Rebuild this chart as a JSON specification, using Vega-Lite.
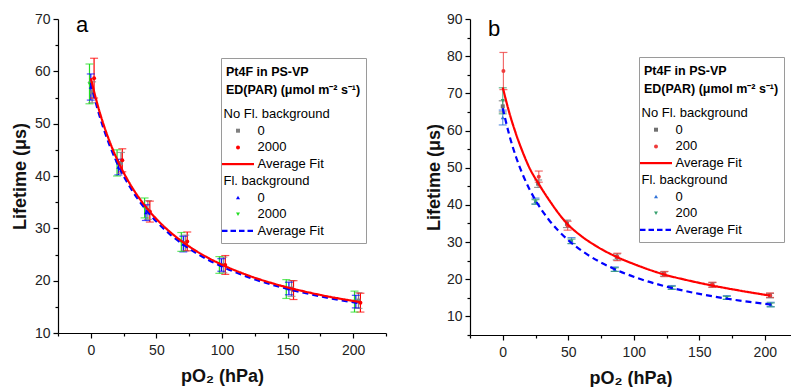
{
  "$schema": "https://vega.github.io/schema/vega-lite/v6.json",
  "padding": {"left": 11, "top": 12, "right": 0, "bottom": 0},
  "bounds": "flush",
  "spacing": 84,
  "config": {
    "font": "Liberation Sans",
    "view": {"stroke": null},
    "axis": {
      "grid": false,
      "domainColor": "#000",
      "domainWidth": 1.2,
      "tickColor": "#000",
      "tickWidth": 1.2,
      "labelFont": "Liberation Sans",
      "labelFontSize": 14,
      "labelColor": "#222",
      "labelPadding": 3,
      "labelOverlap": false,
      "labelFlush": false,
      "titleFont": "Liberation Sans",
      "titleFontSize": 18,
      "titleFontWeight": "bold",
      "titleColor": "#111"
    },
    "axisX": {"titlePadding": 10, "labelPadding": 5},
    "axisY": {"titlePadding": 5}
  },
  "datasets": {
    "a_pts": [
      {"x": 1, "y": 56, "lo": 54, "hi": 58, "s": "nf0"},
      {"x": 23, "y": 42.5, "lo": 40.5, "hi": 44.5, "s": "nf0"},
      {"x": 43.5, "y": 33.5, "lo": 31.7, "hi": 35.3, "s": "nf0"},
      {"x": 72, "y": 27.2, "lo": 25.7, "hi": 28.7, "s": "nf0"},
      {"x": 101, "y": 23, "lo": 21.5, "hi": 24.5, "s": "nf0"},
      {"x": 153, "y": 18.5, "lo": 17, "hi": 20, "s": "nf0"},
      {"x": 204, "y": 16.2, "lo": 14.7, "hi": 17.7, "s": "nf0"},
      {"x": 2.5, "y": 58.7, "lo": 54.9, "hi": 62.5, "s": "nf2000"},
      {"x": 24, "y": 43, "lo": 40.8, "hi": 45.2, "s": "nf2000"},
      {"x": 45, "y": 33.2, "lo": 31.2, "hi": 35.2, "s": "nf2000"},
      {"x": 73.5, "y": 27.5, "lo": 25.7, "hi": 29.3, "s": "nf2000"},
      {"x": 102.5, "y": 23, "lo": 21.2, "hi": 24.8, "s": "nf2000"},
      {"x": 154.5, "y": 18.2, "lo": 16.4, "hi": 20, "s": "nf2000"},
      {"x": 205.5, "y": 15.8, "lo": 14, "hi": 17.6, "s": "nf2000"},
      {"x": 0, "y": 57, "lo": 54.5, "hi": 59.5, "s": "fl0"},
      {"x": 21, "y": 41.7, "lo": 40.2, "hi": 43.2, "s": "fl0"},
      {"x": 42, "y": 33, "lo": 31.5, "hi": 34.5, "s": "fl0"},
      {"x": 70.5, "y": 27, "lo": 25.5, "hi": 28.5, "s": "fl0"},
      {"x": 99.5, "y": 23, "lo": 21.8, "hi": 24.2, "s": "fl0"},
      {"x": 151, "y": 18.5, "lo": 17.3, "hi": 19.7, "s": "fl0"},
      {"x": 202, "y": 16, "lo": 14.8, "hi": 17.2, "s": "fl0"},
      {"x": -1, "y": 57.6, "lo": 53.8, "hi": 61.4, "s": "fl2000"},
      {"x": 20, "y": 42.5, "lo": 40, "hi": 45, "s": "fl2000"},
      {"x": 41, "y": 33.9, "lo": 32, "hi": 35.8, "s": "fl2000"},
      {"x": 69, "y": 27.4, "lo": 25.6, "hi": 29.2, "s": "fl2000"},
      {"x": 98, "y": 23, "lo": 21.4, "hi": 24.6, "s": "fl2000"},
      {"x": 149, "y": 18.4, "lo": 16.6, "hi": 20.2, "s": "fl2000"},
      {"x": 201, "y": 16, "lo": 14, "hi": 18, "s": "fl2000"}
    ],
    "a_fit": [
      {"x": 0, "y": 57.8, "s": "flfit"}, {"x": 5, "y": 52.91, "s": "flfit"}, {"x": 10, "y": 48.86, "s": "flfit"},
      {"x": 15, "y": 45.45, "s": "flfit"}, {"x": 20, "y": 42.54, "s": "flfit"}, {"x": 30, "y": 37.84, "s": "flfit"},
      {"x": 40, "y": 34.2, "s": "flfit"}, {"x": 50, "y": 31.3, "s": "flfit"}, {"x": 60, "y": 28.95, "s": "flfit"},
      {"x": 70, "y": 26.99, "s": "flfit"}, {"x": 80, "y": 25.33, "s": "flfit"}, {"x": 90, "y": 23.92, "s": "flfit"},
      {"x": 100, "y": 22.7, "s": "flfit"}, {"x": 120, "y": 20.68, "s": "flfit"}, {"x": 140, "y": 19.09, "s": "flfit"},
      {"x": 160, "y": 17.82, "s": "flfit"}, {"x": 180, "y": 16.76, "s": "flfit"}, {"x": 205, "y": 15.68, "s": "flfit"},
      {"x": 0, "y": 58.7, "s": "nffit"}, {"x": 5, "y": 53.73, "s": "nffit"}, {"x": 10, "y": 49.62, "s": "nffit"},
      {"x": 15, "y": 46.16, "s": "nffit"}, {"x": 20, "y": 43.2, "s": "nffit"}, {"x": 30, "y": 38.43, "s": "nffit"},
      {"x": 40, "y": 34.73, "s": "nffit"}, {"x": 50, "y": 31.79, "s": "nffit"}, {"x": 60, "y": 29.4, "s": "nffit"},
      {"x": 70, "y": 27.41, "s": "nffit"}, {"x": 80, "y": 25.72, "s": "nffit"}, {"x": 90, "y": 24.29, "s": "nffit"},
      {"x": 100, "y": 23.05, "s": "nffit"}, {"x": 120, "y": 21.0, "s": "nffit"}, {"x": 140, "y": 19.39, "s": "nffit"},
      {"x": 160, "y": 18.1, "s": "nffit"}, {"x": 180, "y": 17.02, "s": "nffit"}, {"x": 205, "y": 15.92, "s": "nffit"}
    ],
    "b_pts": [
      {"x": 0, "y": 66.5, "lo": 65, "hi": 68, "s": "nf0"},
      {"x": 27, "y": 45.7, "lo": 44.7, "hi": 46.7, "s": "nf0"},
      {"x": 49, "y": 34.9, "lo": 33.9, "hi": 35.9, "s": "nf0"},
      {"x": 87, "y": 26, "lo": 25.2, "hi": 26.8, "s": "nf0"},
      {"x": 123, "y": 21.4, "lo": 20.8, "hi": 22, "s": "nf0"},
      {"x": 160, "y": 18.5, "lo": 17.9, "hi": 19.1, "s": "nf0"},
      {"x": 204, "y": 15.6, "lo": 15, "hi": 16.2, "s": "nf0"},
      {"x": 0.5, "y": 76, "lo": 71, "hi": 81, "s": "nf200"},
      {"x": 27.5, "y": 47.6, "lo": 46.1, "hi": 49.1, "s": "nf200"},
      {"x": 49.5, "y": 34.4, "lo": 33.2, "hi": 35.6, "s": "nf200"},
      {"x": 87.5, "y": 26, "lo": 25, "hi": 27, "s": "nf200"},
      {"x": 123.5, "y": 21.4, "lo": 20.7, "hi": 22.1, "s": "nf200"},
      {"x": 160, "y": 18.5, "lo": 17.8, "hi": 19.2, "s": "nf200"},
      {"x": 204, "y": 15.7, "lo": 15.1, "hi": 16.3, "s": "nf200"},
      {"x": 0, "y": 63.5, "lo": 61.5, "hi": 65.5, "s": "fl0"},
      {"x": 25, "y": 41, "lo": 40.2, "hi": 41.8, "s": "fl0"},
      {"x": 52.5, "y": 30.4, "lo": 29.6, "hi": 31.2, "s": "fl0"},
      {"x": 85.5, "y": 22.7, "lo": 22.1, "hi": 23.3, "s": "fl0"},
      {"x": 129, "y": 17.8, "lo": 17.3, "hi": 18.3, "s": "fl0"},
      {"x": 171, "y": 15.1, "lo": 14.6, "hi": 15.6, "s": "fl0"},
      {"x": 204.5, "y": 13.2, "lo": 12.6, "hi": 13.8, "s": "fl0"},
      {"x": 0, "y": 68, "lo": 64.5, "hi": 71.5, "s": "fl200"},
      {"x": 25, "y": 40.8, "lo": 40.2, "hi": 41.4, "s": "fl200"},
      {"x": 52.5, "y": 30.2, "lo": 29.6, "hi": 30.8, "s": "fl200"},
      {"x": 85.5, "y": 22.6, "lo": 22.1, "hi": 23.1, "s": "fl200"},
      {"x": 129, "y": 17.7, "lo": 17.3, "hi": 18.1, "s": "fl200"},
      {"x": 171, "y": 15, "lo": 14.6, "hi": 15.4, "s": "fl200"},
      {"x": 204.5, "y": 13.1, "lo": 12.6, "hi": 13.6, "s": "fl200"}
    ],
    "b_fit": [
      {"x": 0, "y": 66, "s": "flfit"}, {"x": 5, "y": 58.76, "s": "flfit"}, {"x": 10, "y": 53.02, "s": "flfit"},
      {"x": 15, "y": 48.36, "s": "flfit"}, {"x": 20, "y": 44.5, "s": "flfit"}, {"x": 25, "y": 41.24, "s": "flfit"},
      {"x": 35, "y": 36.07, "s": "flfit"}, {"x": 50, "y": 30.5, "s": "flfit"}, {"x": 65, "y": 26.55, "s": "flfit"},
      {"x": 85, "y": 22.78, "s": "flfit"}, {"x": 105, "y": 20.06, "s": "flfit"}, {"x": 130, "y": 17.57, "s": "flfit"},
      {"x": 150, "y": 16.06, "s": "flfit"}, {"x": 170, "y": 14.83, "s": "flfit"}, {"x": 190, "y": 13.82, "s": "flfit"},
      {"x": 205, "y": 13.17, "s": "flfit"},
      {"x": 0, "y": 71.6, "s": "nffit"}, {"x": 5, "y": 64.8, "s": "nffit"}, {"x": 10, "y": 59.2, "s": "nffit"},
      {"x": 15, "y": 54.4, "s": "nffit"}, {"x": 20.6, "y": 49.8, "s": "nffit"}, {"x": 27, "y": 45.9, "s": "nffit"},
      {"x": 35, "y": 41.5, "s": "nffit"}, {"x": 49, "y": 35.0, "s": "nffit"}, {"x": 60, "y": 31.6, "s": "nffit"},
      {"x": 70, "y": 29.2, "s": "nffit"}, {"x": 87, "y": 26.0, "s": "nffit"}, {"x": 100, "y": 24.1, "s": "nffit"},
      {"x": 123, "y": 21.3, "s": "nffit"}, {"x": 140, "y": 19.8, "s": "nffit"}, {"x": 160, "y": 18.3, "s": "nffit"},
      {"x": 180, "y": 17.0, "s": "nffit"}, {"x": 204, "y": 15.6, "s": "nffit"}
    ]
  },
  "resolve": {
    "scale": {"color": "independent", "shape": "independent", "strokeDash": "independent"},
    "legend": {"color": "independent"}
  },
  "hconcat": [
    {
      "width": 328,
      "height": 314,
      "layer": [
        {
          "data": {"name": "a_pts"},
          "mark": {"type": "rule", "strokeWidth": 1.2},
          "encoding": {
            "x": {"field": "x", "type": "quantitative", "scale": {"domain": [-25, 225], "nice": false, "zero": false},
              "axis": {"title": "pO₂ (hPa)", "format": "d", "tickCount": 100, "labelOverlap": false, "values": [-25, 0, 25, 50, 75, 100, 125, 150, 175, 200, 225], "labelExpr": "datum.value % 50 == 0 ? datum.label : ''", "tickSize": {"condition": {"test": "datum.value % 50 == 0", "value": 5}, "value": 3}}},
            "y": {"field": "lo", "type": "quantitative", "scale": {"domain": [10, 70], "nice": false, "zero": false},
              "axis": {"title": "Lifetime (μs)", "format": "d", "tickCount": 100, "labelOverlap": false, "values": [10, 15, 20, 25, 30, 35, 40, 45, 50, 55, 60, 65, 70], "labelExpr": "datum.value % 10 == 0 ? datum.label : ''", "tickSize": {"condition": {"test": "datum.value % 10 == 0", "value": 5}, "value": 3}}},
            "y2": {"field": "hi"},
            "color": {"field": "s", "type": "nominal",
              "scale": {"domain": ["H1", "nf0", "nf2000", "nffit", "H2", "fl0", "fl2000", "flfit"], "range": ["#ffffff", "#808080", "#ff0000", "#ff0000", "#ffffff", "#0000ff", "#22dd22", "#0000ff"]},
              "legend": {
                "orient": "none", "legendX": 163, "legendY": 39,
                "title": ["Pt4F in PS-VP", "ED(PAR) (μmol m⁻² s⁻¹)"],
                "titleFont": "Liberation Sans", "titleFontSize": 12.5, "titleFontWeight": "bold", "titleLineHeight": 18, "titleColor": "#000", "titlePadding": 14,
                "labelFont": "Liberation Sans", "labelFontSize": 13, "labelColor": "#000", "labelOffset": 13,
                "labelExpr": "datum.value == 'H1' ? 'No Fl. background' : datum.value == 'H2' ? 'Fl. background' : (datum.value == 'nffit' || datum.value == 'flfit') ? 'Average Fit' : (datum.value == 'nf0' || datum.value == 'fl0') ? '0' : '2000'",
                "padding": 5, "strokeColor": "#9a9a9a", "fillColor": "#ffffff", "cornerRadius": 0,
                "rowPadding": 2.7, "symbolOffset": 5.5, "symbolSize": 16, "symbolStrokeWidth": 0, "symbolOpacity": 1,
                "encode": {
                  "title": {"update": {"dy": {"value": 3}}},
                  "symbols": {"update": {
                    "shape": {"signal": "datum.value == 'nffit' ? 'M-8,-0.55H8V0.55H-8Z' : datum.value == 'flfit' ? 'M-8,-0.55H-5.25V0.55H-8Z M-3.75,-0.55H-1V0.55H-3.75Z M0.5,-0.55H3.25V0.55H0.5Z M4.75,-0.55H7.5V0.55H4.75Z' : datum.value == 'nf0' ? 'square' : datum.value == 'nf2000' ? 'circle' : datum.value == 'fl0' ? 'triangle-up' : datum.value == 'fl2000' ? 'triangle-down' : 'M0,0'"},
                    "size": {"value": 16},
                    "fill": {"signal": "datum.value == 'nf0' ? '#808080' : datum.value == 'nf2000' ? '#ff0000' : datum.value == 'nffit' ? '#ff0000' : datum.value == 'fl0' ? '#0000ff' : datum.value == 'fl2000' ? '#22dd22' : datum.value == 'flfit' ? '#0000ff' : 'transparent'"},
                    "strokeWidth": {"value": 0},
                    "opacity": {"value": 1}
                  }},
                  "labels": {"update": {
                    "dx": {"signal": "(datum.value == 'H1' || datum.value == 'H2') ? -34 : 0"}
                  }}
                }
              }
            }
          }
        },
        {
          "data": {"name": "a_pts"},
          "mark": {"type": "tick", "orient": "horizontal", "size": 8, "thickness": 1.2},
          "encoding": {
            "x": {"field": "x", "type": "quantitative"},
            "y": {"field": "lo", "type": "quantitative"},
            "color": {"field": "s", "type": "nominal", "scale": {"domain": ["H1", "nf0", "nf2000", "nffit", "H2", "fl0", "fl2000", "flfit"], "range": ["#ffffff", "#808080", "#ff0000", "#ff0000", "#ffffff", "#0000ff", "#22dd22", "#0000ff"]}}
          }
        },
        {
          "data": {"name": "a_pts"},
          "mark": {"type": "tick", "orient": "horizontal", "size": 8, "thickness": 1.2},
          "encoding": {
            "x": {"field": "x", "type": "quantitative"},
            "y": {"field": "hi", "type": "quantitative"},
            "color": {"field": "s", "type": "nominal", "scale": {"domain": ["H1", "nf0", "nf2000", "nffit", "H2", "fl0", "fl2000", "flfit"], "range": ["#ffffff", "#808080", "#ff0000", "#ff0000", "#ffffff", "#0000ff", "#22dd22", "#0000ff"]}}
          }
        },
        {
          "data": {"name": "a_pts"},
          "mark": {"type": "point", "filled": true, "size": 16, "opacity": 1},
          "encoding": {
            "x": {"field": "x", "type": "quantitative"},
            "y": {"field": "y", "type": "quantitative"},
            "color": {"field": "s", "type": "nominal", "scale": {"domain": ["H1", "nf0", "nf2000", "nffit", "H2", "fl0", "fl2000", "flfit"], "range": ["#ffffff", "#808080", "#ff0000", "#ff0000", "#ffffff", "#0000ff", "#22dd22", "#0000ff"]}},
            "shape": {"field": "s", "type": "nominal", "scale": {"domain": ["nf0", "nf2000", "fl0", "fl2000"], "range": ["square", "circle", "triangle-up", "triangle-down"]}, "legend": null}
          }
        },
        {
          "data": {"name": "a_fit"},
          "mark": {"type": "line", "strokeWidth": 2.2, "interpolate": "monotone"},
          "encoding": {
            "x": {"field": "x", "type": "quantitative"},
            "y": {"field": "y", "type": "quantitative"},
            "color": {"field": "s", "type": "nominal", "scale": {"domain": ["H1", "nf0", "nf2000", "nffit", "H2", "fl0", "fl2000", "flfit"], "range": ["#ffffff", "#808080", "#ff0000", "#ff0000", "#ffffff", "#0000ff", "#22dd22", "#0000ff"]}},
            "strokeDash": {"field": "s", "type": "nominal", "scale": {"domain": ["nffit", "flfit"], "range": [[1, 0], [6, 4]]}, "legend": null}
          }
        },
        {
          "data": {"values": [{}]},
          "mark": {"type": "text", "text": "a", "fontSize": 22, "font": "Liberation Sans", "align": "left", "baseline": "alphabetic", "color": "#000"},
          "encoding": {"x": {"datum": -11.3}, "y": {"datum": 67.5}}
        }
      ]
    },
    {
      "width": 321,
      "height": 316,
      "layer": [
        {
          "data": {"name": "b_pts"},
          "mark": {"type": "rule", "strokeWidth": 1.2, "opacity": 0.75},
          "encoding": {
            "x": {"field": "x", "type": "quantitative", "scale": {"domain": [-25, 220], "nice": false, "zero": false},
              "axis": {"title": "pO₂ (hPa)", "format": "d", "tickCount": 100, "labelOverlap": false, "values": [-25, 0, 25, 50, 75, 100, 125, 150, 175, 200], "labelExpr": "datum.value % 50 == 0 ? datum.label : ''", "tickSize": {"condition": {"test": "datum.value % 50 == 0", "value": 5}, "value": 3}}},
            "y": {"field": "lo", "type": "quantitative", "scale": {"domain": [5, 90], "nice": false, "zero": false},
              "axis": {"title": "Lifetime (μs)", "format": "d", "tickCount": 100, "labelOverlap": false, "titlePadding": 3, "values": [5, 10, 15, 20, 25, 30, 35, 40, 45, 50, 55, 60, 65, 70, 75, 80, 85, 90], "labelExpr": "datum.value % 10 == 0 ? datum.label : ''", "tickSize": {"condition": {"test": "datum.value % 10 == 0", "value": 5}, "value": 3}}},
            "y2": {"field": "hi"},
            "color": {"field": "s", "type": "nominal",
              "scale": {"domain": ["H1", "nf0", "nf200", "nffit", "H2", "fl0", "fl200", "flfit"], "range": ["#ffffff", "#707070", "#ee3b3b", "#ff0000", "#ffffff", "#2f72d8", "#36a06e", "#0000ff"]},
              "legend": {
                "orient": "none", "legendX": 169, "legendY": 38,
                "title": ["Pt4F in PS-VP", "ED(PAR) (μmol m⁻² s⁻¹)"],
                "titleFont": "Liberation Sans", "titleFontSize": 12.5, "titleFontWeight": "bold", "titleLineHeight": 18, "titleColor": "#000", "titlePadding": 14,
                "labelFont": "Liberation Sans", "labelFontSize": 13, "labelColor": "#000", "labelOffset": 13,
                "labelExpr": "datum.value == 'H1' ? 'No Fl. background' : datum.value == 'H2' ? 'Fl. background' : (datum.value == 'nffit' || datum.value == 'flfit') ? 'Average Fit' : (datum.value == 'nf0' || datum.value == 'fl0') ? '0' : '200'",
                "padding": 5, "strokeColor": "#9a9a9a", "fillColor": "#ffffff", "cornerRadius": 0,
                "rowPadding": 2.7, "symbolOffset": 5.5, "symbolSize": 16, "symbolStrokeWidth": 0, "symbolOpacity": 1,
                "encode": {
                  "title": {"update": {"dy": {"value": 3}}},
                  "symbols": {"update": {
                    "shape": {"signal": "datum.value == 'nffit' ? 'M-8,-0.55H8V0.55H-8Z' : datum.value == 'flfit' ? 'M-8,-0.55H-5.25V0.55H-8Z M-3.75,-0.55H-1V0.55H-3.75Z M0.5,-0.55H3.25V0.55H0.5Z M4.75,-0.55H7.5V0.55H4.75Z' : datum.value == 'nf0' ? 'square' : datum.value == 'nf200' ? 'circle' : datum.value == 'fl0' ? 'triangle-up' : datum.value == 'fl200' ? 'triangle-down' : 'M0,0'"},
                    "size": {"value": 16},
                    "fill": {"signal": "datum.value == 'nf0' ? '#707070' : datum.value == 'nf200' ? '#ee3b3b' : datum.value == 'nffit' ? '#ff0000' : datum.value == 'fl0' ? '#2f72d8' : datum.value == 'fl200' ? '#36a06e' : datum.value == 'flfit' ? '#0000ff' : 'transparent'"},
                    "strokeWidth": {"value": 0},
                    "opacity": {"value": 1}
                  }},
                  "labels": {"update": {
                    "dx": {"signal": "(datum.value == 'H1' || datum.value == 'H2') ? -34 : 0"}
                  }}
                }
              }
            }
          }
        },
        {
          "data": {"name": "b_pts"},
          "mark": {"type": "tick", "orient": "horizontal", "size": 8, "thickness": 1.2, "opacity": 0.75},
          "encoding": {
            "x": {"field": "x", "type": "quantitative"},
            "y": {"field": "lo", "type": "quantitative"},
            "color": {"field": "s", "type": "nominal", "scale": {"domain": ["H1", "nf0", "nf200", "nffit", "H2", "fl0", "fl200", "flfit"], "range": ["#ffffff", "#707070", "#ee3b3b", "#ff0000", "#ffffff", "#2f72d8", "#36a06e", "#0000ff"]}}
          }
        },
        {
          "data": {"name": "b_pts"},
          "mark": {"type": "tick", "orient": "horizontal", "size": 8, "thickness": 1.2, "opacity": 0.75},
          "encoding": {
            "x": {"field": "x", "type": "quantitative"},
            "y": {"field": "hi", "type": "quantitative"},
            "color": {"field": "s", "type": "nominal", "scale": {"domain": ["H1", "nf0", "nf200", "nffit", "H2", "fl0", "fl200", "flfit"], "range": ["#ffffff", "#707070", "#ee3b3b", "#ff0000", "#ffffff", "#2f72d8", "#36a06e", "#0000ff"]}}
          }
        },
        {
          "data": {"name": "b_pts"},
          "mark": {"type": "point", "filled": true, "size": 16, "opacity": 1},
          "encoding": {
            "x": {"field": "x", "type": "quantitative"},
            "y": {"field": "y", "type": "quantitative"},
            "color": {"field": "s", "type": "nominal", "scale": {"domain": ["H1", "nf0", "nf200", "nffit", "H2", "fl0", "fl200", "flfit"], "range": ["#ffffff", "#707070", "#ee3b3b", "#ff0000", "#ffffff", "#2f72d8", "#36a06e", "#0000ff"]}},
            "shape": {"field": "s", "type": "nominal", "scale": {"domain": ["nf0", "nf200", "fl0", "fl200"], "range": ["square", "circle", "triangle-up", "triangle-down"]}, "legend": null}
          }
        },
        {
          "data": {"name": "b_fit"},
          "mark": {"type": "line", "strokeWidth": 2.2, "interpolate": "monotone"},
          "encoding": {
            "x": {"field": "x", "type": "quantitative"},
            "y": {"field": "y", "type": "quantitative"},
            "color": {"field": "s", "type": "nominal", "scale": {"domain": ["H1", "nf0", "nf200", "nffit", "H2", "fl0", "fl200", "flfit"], "range": ["#ffffff", "#707070", "#ee3b3b", "#ff0000", "#ffffff", "#2f72d8", "#36a06e", "#0000ff"]}},
            "strokeDash": {"field": "s", "type": "nominal", "scale": {"domain": ["nffit", "flfit"], "range": [[1, 0], [6, 4]]}, "legend": null}
          }
        },
        {
          "data": {"values": [{}]},
          "mark": {"type": "text", "text": "b", "fontSize": 22, "font": "Liberation Sans", "align": "left", "baseline": "alphabetic", "color": "#000"},
          "encoding": {"x": {"datum": -11.3}, "y": {"datum": 85.4}}
        }
      ]
    }
  ]
}
